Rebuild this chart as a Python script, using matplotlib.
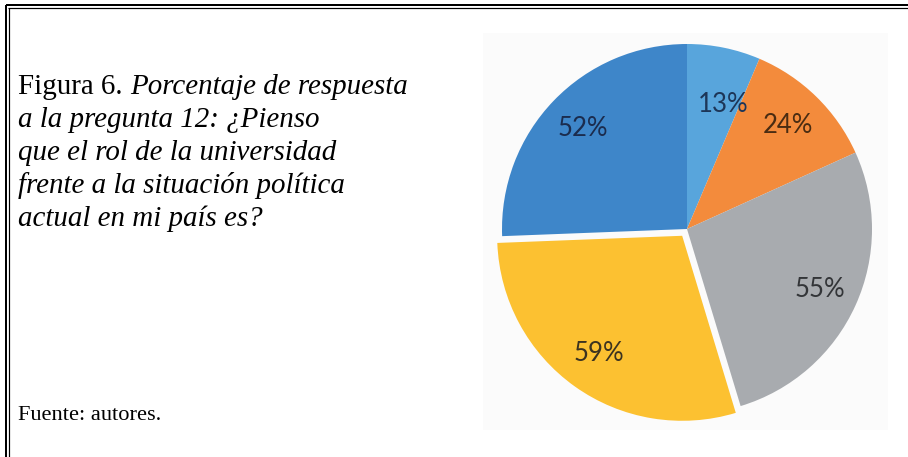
import math
import matplotlib
matplotlib.use("Agg")
import matplotlib.pyplot as plt
from matplotlib.lines import Line2D
from matplotlib.patches import Rectangle

# ---- data ----
slice_values = [13, 24, 55, 59, 52]          # clockwise from 12 o'clock
slice_colors = ["#58A5DC", "#F38B3C", "#A8ABAF", "#FCC131", "#3E86C9"]
label_colors = ["#1d3658", "#4a2c12", "#333538", "#3c3320", "#1b2c4e"]
explode_vals = [0, 0, 0, 0.045, 0]
label_radius = [0.70, 0.78, 0.79, 0.78, 0.78]
label_turn = [-4.5, 0, 0, 0, 0]              # degrees, counter-clockwise nudge

title_lead = "Figura 6. "
title_lines = [
    "Porcentaje de respuesta",
    "a la pregunta 12: ¿Pienso",
    "que el rol de la universidad",
    "frente a la situación política",
    "actual en mi país es?",
]
source_text = "Fuente: autores."

W, H = 908, 457
fig = plt.figure(figsize=(W / 100, H / 100), dpi=100)
fig.patch.set_facecolor("white")


def fx(px):
    return px / W


def fy(py):
    return 1 - py / H


# double border (top and left)
for (x0, y0, x1, y1, lw) in [
    (5.5, 4.5, W, 4.5, 2.0),
    (8, 7.5, W, 7.5, 1.2),
    (5.5, 4.5, 5.5, H, 2.0),
    (8.5, 7.5, 8.5, H, 1.2),
]:
    fig.add_artist(Line2D([fx(x0), fx(x1)], [fy(y0), fy(y1)],
                          transform=fig.transFigure, color="black",
                          linewidth=lw * 0.72, solid_capstyle="butt"))

# faint background of the embedded chart image
fig.add_artist(Rectangle((fx(483), fy(430)), fx(888) - fx(483), fy(33) - fy(430),
                         transform=fig.transFigure, facecolor="#FBFBFB",
                         edgecolor="none", zorder=0))

# ---- text on the left ----
serif = "Liberation Serif"
fs_title = 20.9
x0 = 18
base0 = 94
step = 33
renderer = fig.canvas.get_renderer()
t0 = fig.text(fx(x0), fy(base0), title_lead, fontsize=fs_title, family=serif,
              va="baseline", ha="left")
bb = t0.get_window_extent(renderer=renderer)
lead_w = bb.width
fig.text(fx(x0) + lead_w / W, fy(base0), title_lines[0], fontsize=fs_title,
         family=serif, style="italic", va="baseline", ha="left")
for i, line in enumerate(title_lines[1:], start=1):
    fig.text(fx(x0), fy(base0 + i * step), line, fontsize=fs_title,
             family=serif, style="italic", va="baseline", ha="left")

fig.text(fx(x0), fy(420), source_text, fontsize=16.1, family=serif,
         va="baseline", ha="left")

# ---- pie ----
cx, cy, r = 687, 229, 185
ax = fig.add_axes([fx(cx - r), fy(cy + r), 2 * r / W, 2 * r / H])
total = sum(slice_values)
wedges, texts, autotexts = ax.pie(
    slice_values,
    colors=slice_colors,
    startangle=90,
    counterclock=False,
    explode=explode_vals,
    autopct=lambda p: f"{p * total / 100:.0f}%",
    pctdistance=0.78,
    wedgeprops=dict(linewidth=0),
    textprops=dict(fontsize=18.5, family="Lato"),
)
for w in wedges:
    w.set_clip_on(False)
for w, t, c, rad, turn, ex in zip(wedges, autotexts, label_colors,
                                  label_radius, label_turn, explode_vals):
    t.set_color(c)
    mid = math.radians((w.theta1 + w.theta2) / 2)
    ox, oy = ex * math.cos(mid), ex * math.sin(mid)
    ang = mid + math.radians(turn)
    t.set_position((ox + rad * math.cos(ang), oy + rad * math.sin(ang)))
ax.set_xlim(-1, 1)
ax.set_ylim(-1, 1)
ax.set_aspect("equal")
ax.axis("off")

fig.savefig("out.png", dpi=100)
